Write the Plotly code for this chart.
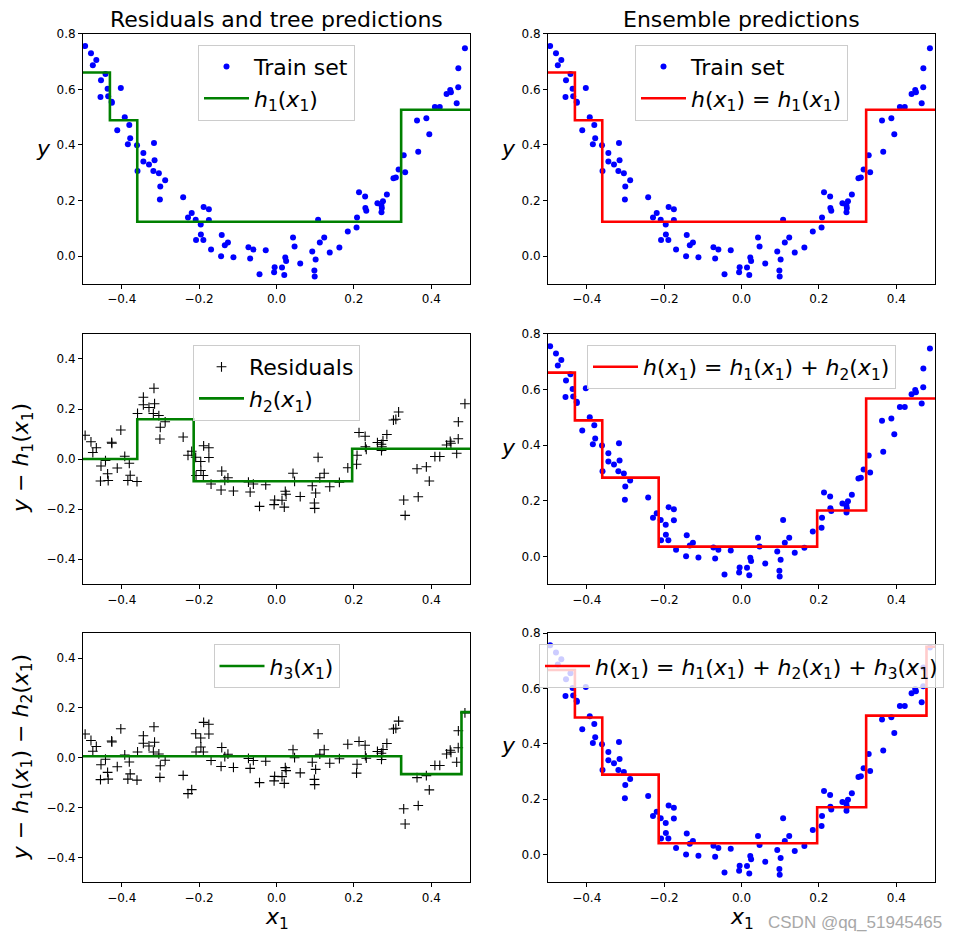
import numpy as np
import plotly.graph_objects as go

# ---------------- data ----------------
x_train = [-0.1255, 0.4507, 0.2320, 0.0987, -0.3440, -0.3440, -0.4419, 0.3662, 0.1011, 0.2081,
           -0.4794, 0.4699, 0.3324, -0.2877, -0.3182, -0.3166, -0.1958, 0.0248, -0.0681, -0.2088,
           0.1119, -0.3605, -0.2079, -0.1336, -0.0439, 0.2852, -0.3003, 0.0142, 0.0924, -0.4535,
           0.1075, -0.3295, -0.4349, 0.4489, 0.4656, 0.3084, -0.1954, -0.4023, 0.1842, -0.0598,
           -0.3780, -0.0048, -0.4656, 0.4093, -0.2412, 0.1625, -0.1883, 0.0201, 0.0467, -0.3151,
           0.4696, 0.2751, 0.4395, 0.3948, 0.0979, 0.4219, -0.4115, -0.3040, -0.4548, -0.1747,
           -0.1113, -0.2287, 0.3287, -0.1432, -0.2191, 0.0427, -0.3591, 0.3022, -0.4254, 0.4869,
           0.2722, -0.3013, -0.4945, 0.3155, 0.2069, 0.2290, 0.2713, -0.4260, -0.1415, -0.3841,
           0.3631, 0.1233, -0.1691, -0.4364, -0.1890, -0.1748, 0.2296, 0.1376, 0.3872, -0.0278,
           -0.3804, 0.2132, 0.2608, 0.0613, 0.2710, -0.0062, 0.0227, -0.0725, -0.4746, -0.3921]
y_train = [0.049, 0.590, 0.163, -0.073, 0.371, 0.341, 0.655, 0.376, -0.012, 0.139,
           0.730, 0.676, 0.302, 0.273, 0.306, 0.407, 0.114, -0.017, -0.008, 0.131,
           0.049, 0.399, 0.058, 0.039, -0.065, 0.222, 0.251, -0.041, 0.017, 0.633,
           0.131, 0.330, 0.575, 0.598, 0.550, 0.283, 0.078, 0.605, 0.089, 0.024,
           0.424, -0.040, 0.706, 0.537, 0.212, 0.031, 0.177, -0.068, 0.035, 0.345,
           0.608, 0.198, 0.583, 0.439, -0.052, 0.537, 0.453, 0.298, 0.573, 0.130,
           -0.004, 0.139, 0.363, 0.000, 0.155, 0.067, 0.306, 0.280, 0.552, 0.748,
           0.173, 0.204, 0.756, 0.312, 0.103, 0.215, 0.158, 0.556, 0.076, 0.403,
           0.488, 0.067, 0.024, 0.602, 0.058, 0.169, 0.173, 0.013, 0.496, 0.021,
           0.472, 0.230, 0.190, -0.026, 0.183, -0.058, -0.005, 0.032, 0.687, 0.500]

# regression trees: split thresholds and leaf values
tree1_splits = [-0.4305, -0.3598, 0.3221]
tree1_values = [0.661, 0.489, 0.124, 0.527]
tree2_splits = [-0.3598, -0.2140, 0.1955]
tree2_values = [0.000, 0.159, -0.089, 0.041]
tree3_splits = [0.3221, 0.4780]
tree3_values = [0.006, -0.066, 0.183]

x_range = [-0.5, 0.5]
y_range_pred = [-0.1, 0.8]
y_range_res = [-0.5, 0.5]
x_ticks = [-0.4, -0.2, 0.0, 0.2, 0.4]
y_ticks_pred = [0.0, 0.2, 0.4, 0.6, 0.8]
y_ticks_res = [-0.4, -0.2, 0.0, 0.2, 0.4]

# ---------------- helpers ----------------
X = np.array(x_train)
Y = np.array(y_train)


def tree_eval(x, splits, values):
    return np.array(values)[np.searchsorted(np.array(splits), x)]


def ensemble_steps(trees):
    bps = sorted(set(s for sp, _ in trees for s in sp))
    xs = [x_range[0]] + bps + [x_range[1]]
    mids = [x_range[0]] + bps
    ys = [sum(float(tree_eval(np.array([m + 1e-9]), sp, v)[0]) for sp, v in trees) for m in mids]
    ys = ys + [ys[-1]]
    return xs, ys


res1 = Y - tree_eval(X, tree1_splits, tree1_values)
res2 = res1 - tree_eval(X, tree2_splits, tree2_values)

FONT = "DejaVu Sans"
W, H = 958, 940
OFF_X = 8  # page body margin

# plot area pixel boxes (screen coordinates)
col_px = [(83, 470), (548, 935)]
row_px = [(33, 283), (333, 583), (632, 881)]


def px_x(p):
    return (p - OFF_X) / W


def px_y(p):
    return 1 - ((p - 14.2) / 0.992) / H


fig = go.Figure()

h1 = "<i>h</i><sub>1</sub>(<i>x</i><sub>1</sub>)"
h2 = "<i>h</i><sub>2</sub>(<i>x</i><sub>1</sub>)"
h3 = "<i>h</i><sub>3</sub>(<i>x</i><sub>1</sub>)"
hx = "<i>h</i>(<i>x</i><sub>1</sub>)"

GREEN = "green"
RED = "red"


def add_points(k, legend, show, name="Train set"):
    fig.add_trace(go.Scatter(x=x_train, y=y_train, mode="markers", name=name,
                             marker=dict(color="blue", size=6),
                             xaxis=f"x{k}", yaxis=f"y{k}", legend=legend, showlegend=show))


def add_res(k, r, legend, show):
    fig.add_trace(go.Scatter(x=x_train, y=list(r), mode="markers", name="Residuals",
                             marker=dict(symbol="cross-thin", color="black", size=7,
                                         line=dict(color="black", width=1.1)),
                             xaxis=f"x{k}", yaxis=f"y{k}", legend=legend, showlegend=show))


def add_step(k, xs, ys, color, name, legend):
    fig.add_trace(go.Scatter(x=xs, y=ys, mode="lines", line=dict(color=color, width=2.6, shape="hv"),
                             name=name, xaxis=f"x{k}", yaxis=f"y{k}", legend=legend))


def tree_line(splits, values):
    return [x_range[0]] + list(splits) + [x_range[1]], list(values) + [values[-1]]


# row 1
add_points(1, "legend", True)
add_step(1, *tree_line(tree1_splits, tree1_values), GREEN, h1, "legend")
add_points(2, "legend2", True)
add_step(2, *ensemble_steps([(tree1_splits, tree1_values)]), RED, f"{hx} = {h1}", "legend2")
# row 2
add_res(3, res1, "legend3", True)
add_step(3, *tree_line(tree2_splits, tree2_values), GREEN, h2, "legend3")
add_points(4, "legend4", False)
add_step(4, *ensemble_steps([(tree1_splits, tree1_values), (tree2_splits, tree2_values)]), RED,
         f"{hx} = {h1} + {h2}", "legend4")
# row 3
add_res(5, res2, "legend5", False)
add_step(5, *tree_line(tree3_splits, tree3_values), GREEN, h3, "legend5")
add_points(6, "legend6", False)
add_step(6, *ensemble_steps([(tree1_splits, tree1_values), (tree2_splits, tree2_values),
                             (tree3_splits, tree3_values)]), RED,
         f"{hx} = {h1} + {h2} + {h3}", "legend6")

layout = dict(width=W, height=H, margin=dict(l=0, r=0, t=0, b=0),
              paper_bgcolor="white", plot_bgcolor="white",
              font=dict(family=FONT, color="black", size=12), showlegend=True)

axis_common = dict(showgrid=False, zeroline=False, showline=True, mirror=True, linecolor="black",
                   linewidth=1, ticks="outside", ticklen=4, tickcolor="black", tickwidth=1,
                   tickfont=dict(family=FONT, size=12, color="black"), tickformat=".1f")

legend_top_px = [44, 344, 643]
for r in range(3):
    for c in range(2):
        k = r * 2 + c + 1
        x0, x1 = col_px[c]
        y0, y1 = row_px[r]
        is_res = (c == 0 and r > 0)
        layout[f"xaxis{k if k > 1 else ''}"] = dict(axis_common, domain=[px_x(x0), px_x(x1)],
                                                    range=x_range, tickvals=x_ticks,
                                                    anchor=f"y{k}")
        layout[f"yaxis{k if k > 1 else ''}"] = dict(axis_common, domain=[px_y(y1), px_y(y0)],
                                                    range=y_range_res if is_res else y_range_pred,
                                                    tickvals=y_ticks_res if is_res else y_ticks_pred,
                                                    anchor=f"x{k}")
        lname = "legend" if k == 1 else f"legend{k}"
        layout[lname] = dict(x=px_x((x0 + x1) / 2), xanchor="center", y=px_y(legend_top_px[r]),
                             yanchor="top", bgcolor="rgba(255,255,255,0.8)", bordercolor="#cccccc",
                             borderwidth=1, font=dict(family=FONT, size=22, color="black"),
                             itemwidth=45, tracegroupgap=0)

fig.update_layout(**layout)

ann = []
# titles
ann.append(dict(text="Residuals and tree predictions", x=px_x(276.5), y=px_y(19), xref="paper", yref="paper",
                showarrow=False, font=dict(size=22, family=FONT), xanchor="center", yanchor="middle"))
ann.append(dict(text="Ensemble predictions", x=px_x(741.5), y=px_y(19), xref="paper", yref="paper",
                showarrow=False, font=dict(size=22, family=FONT), xanchor="center", yanchor="middle"))
# y labels
for (xp, yp) in [(53, 148), (518, 148), (518, 446), (518, 744)]:
    ann.append(dict(text="<i>y</i>", x=px_x(xp), y=px_y(yp), xref="paper", yref="paper", showarrow=False,
                    font=dict(size=22, family=FONT), xanchor="right", yanchor="middle"))
ann.append(dict(text="<i>y</i> − " + h1, x=px_x(22), y=px_y(457), xref="paper", yref="paper",
                showarrow=False, textangle=-90, font=dict(size=22, family=FONT),
                xanchor="center", yanchor="middle"))
ann.append(dict(text="<i>y</i> − " + h1 + " − " + h2, x=px_x(22), y=px_y(756), xref="paper", yref="paper",
                showarrow=False, textangle=-90, font=dict(size=22, family=FONT),
                xanchor="center", yanchor="middle"))
# x labels
for xp in [276.5, 741.5]:
    ann.append(dict(text="<i>x</i><sub>1</sub>", x=px_x(xp), y=px_y(917), xref="paper", yref="paper",
                    showarrow=False, font=dict(size=22, family=FONT), xanchor="center", yanchor="middle"))
# watermark
ann.append(dict(text="CSDN @qq_51945465", x=px_x(944), y=px_y(921), xref="paper", yref="paper",
                showarrow=False, font=dict(size=17, family="Liberation Sans", color="#a8a8a8"),
                xanchor="right", yanchor="middle"))
fig.update_layout(annotations=ann)

fig.write_html("out.html")
